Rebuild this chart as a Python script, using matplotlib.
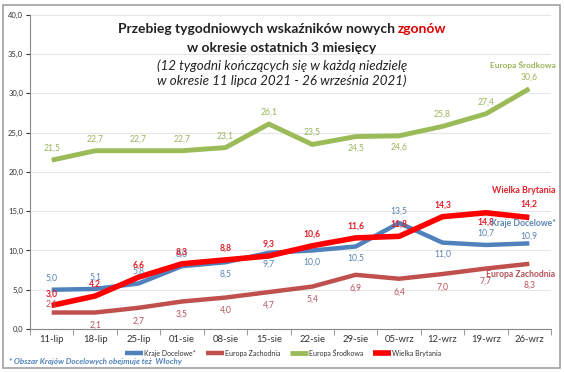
import matplotlib
matplotlib.use("Agg")
import matplotlib.pyplot as plt
from matplotlib.patches import Rectangle
from matplotlib.ticker import FuncFormatter, FixedLocator

plt.rcParams['font.family'] = ['Lato', 'DejaVu Sans']

weeks = ["11-lip", "18-lip", "25-lip", "01-sie", "08-sie", "15-sie",
         "22-sie", "29-sie", "05-wrz", "12-wrz", "19-wrz", "26-wrz"]
kraje_docelowe = [5.0, 5.1, 5.8, 8.0, 8.5, 9.7, 10.0, 10.5, 13.5, 11.0, 10.7, 10.9]
europa_zachodnia = [2.1, 2.1, 2.7, 3.5, 4.0, 4.7, 5.4, 6.9, 6.4, 7.0, 7.7, 8.3]
europa_srodkowa = [21.5, 22.7, 22.7, 22.7, 23.1, 26.1, 23.5, 24.5, 24.6, 25.8, 27.4, 30.6]
wielka_brytania = [3.0, 4.2, 6.6, 8.3, 8.8, 9.3, 10.6, 11.6, 11.8, 14.3, 14.8, 14.2]

# label placement: positive above, negative below (multiples of the base offset)
kd_side = [1, 1, 1, 1, -1, -1, -1, -1, 1, -1, 1, 0.6]
ez_side = [0.7, -1.1, -1.1, -1.1, -1.1, -1.1, -1.1, -1.1, -1.1, -1.1, -1.1, -1.8]
es_side = [1, 1, 1, 1, 1, 1, 1, -1, -1, 1, 1, 1]
wb_side = [1, 1, 1, 1, 1, 1, 1, 1, 1, 1, -0.8, 1.1]

c_blue, c_brown, c_green, c_red = "#4F81BD", "#C0504D", "#9BBB59", "#FF0000"
lc_blue, lc_brown, lc_green, lc_red = "#5B84B0", "#B5525A", "#98B55A", "#E0202A"

fig = plt.figure(figsize=(5.64, 3.72), dpi=100)
fig.patches.append(Rectangle((0.005, 0.012), 0.988, 0.975, transform=fig.transFigure,
                             fill=False, edgecolor="#A0A0A0", lw=1.2))
ax = fig.add_axes([0.0532, 0.1156, 0.9238, 0.8444])
x = list(range(len(weeks)))

series = [
    (kraje_docelowe, c_blue, lc_blue, 3.2, kd_side, "Kraje Docelowe*"),
    (europa_zachodnia, c_brown, lc_brown, 3.2, ez_side, "Europa Zachodnia"),
    (europa_srodkowa, c_green, lc_green, 3.5, es_side, "Europa Środkowa"),
    (wielka_brytania, c_red, lc_red, 4.0, wb_side, "Wielka Brytania"),
]
for vals, col, lcol, lw, sides, name in series:
    ax.plot(x, vals, color=col, lw=lw, solid_capstyle="butt", label=name, zorder=3)
    for xi, v, s in zip(x, vals, sides):
        ax.text(xi, v + s * 1.5, f"{v:.1f}".replace(".", ","), ha="center",
                va="center", fontsize=6.2, color=lcol, zorder=5,
                fontweight="bold" if col == c_red else "normal")

ax.set_xlim(-0.5, 11.5)
ax.set_ylim(0, 40)
ax.set_yticks(range(0, 41, 5))
ax.yaxis.set_major_formatter(FuncFormatter(lambda v, p: f"{v:.1f}".replace(".", ",")))
ax.set_xticks(x)
ax.set_xticklabels(weeks)
ax.xaxis.set_minor_locator(FixedLocator([i - 0.5 for i in range(13)]))
ax.tick_params(axis="x", which="major", length=0, labelsize=6.8, pad=4, colors="#333333")
ax.tick_params(axis="x", which="minor", length=4, color="#888888")
ax.tick_params(axis="y", length=3, labelsize=5.5, colors="#333333", pad=2)
ax.grid(axis="y", color="#E6E6E6", lw=0.8)
ax.set_axisbelow(True)
for sp in ["top", "right"]:
    ax.spines[sp].set_visible(False)
ax.spines["left"].set_color("#888888")
ax.spines["bottom"].set_color("#888888")

leg = fig.legend(loc="center", bbox_to_anchor=(0.502, 0.052), ncol=4, frameon=False,
                 fontsize=5.0, handlelength=2.6, handletextpad=0.15, columnspacing=1.4)
for t in leg.get_texts():
    t.set_color("#333333")

# series name labels (right-aligned near the right edge)
xr = 0.985
def name_label(yval, text, col, fs):
    yfig = ax.transData.transform((0, yval))[1] / fig.bbox.height
    fig.text(xr, yfig, text, color=col, fontsize=fs, fontweight="bold",
             ha="right", va="center")

name_label(33.6, "Europa Środkowa", lc_green, 6.0)
name_label(17.7, "Wielka Brytania", lc_red, 6.4)
name_label(13.4, "Kraje Docelowe*", lc_blue, 6.2)
name_label(7.0, "Europa Zachodnia", lc_brown, 6.2)

# title
fs = 10.0
t1 = fig.text(0.5, 0.922, "Przebieg tygodniowych wskaźników nowych ", fontsize=fs,
              fontweight="bold", ha="right", va="center", color="#222222")
t2 = fig.text(0.5, 0.922, "zgonów", fontsize=fs, fontweight="bold", ha="left",
              va="center", color="#E00000")
fig.canvas.draw()
r = fig.canvas.get_renderer()
w1 = t1.get_window_extent(r).width
w2 = t2.get_window_extent(r).width
W = fig.bbox.width
junction = 0.5 + (w1 - w2) / 2 / W
t1.set_x(junction)
t2.set_x(junction)
fig.text(0.5, 0.871, "w okresie ostatnich 3 miesięcy", fontsize=fs, fontweight="bold",
         ha="center", va="center", color="#222222")
fig.text(0.5, 0.822, "(12 tygodni kończących się w każdą niedzielę", fontsize=9.6,
         style="italic", ha="center", va="center", color="#222222")
fig.text(0.5, 0.782, "w okresie 11 lipca 2021 - 26 września 2021)", fontsize=9.6,
         style="italic", ha="center", va="center", color="#222222")

fig.text(0.016, 0.027, "* Obszar Krajów Docelowych obejmuje też  Włochy", fontsize=5.8,
         style="italic", fontweight="bold", color="#4F81BD", ha="left", va="center")

fig.savefig("out.png", dpi=100)
